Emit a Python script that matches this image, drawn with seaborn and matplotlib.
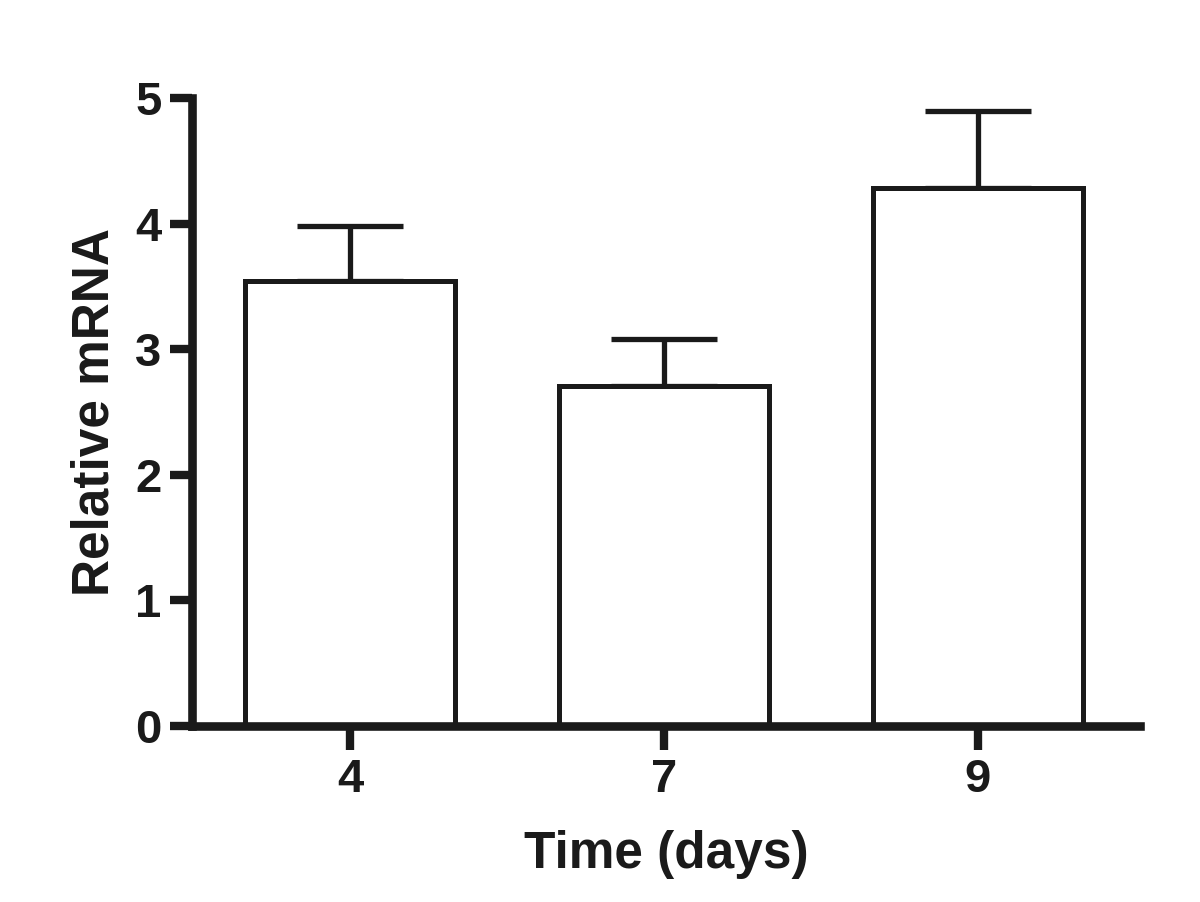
import seaborn as sns
import matplotlib.pyplot as plt
import numpy as np

# Data
days = ["4", "7", "9"]
relative_mrna = [3.54, 2.71, 4.28]
sem_upper = [0.44, 0.37, 0.62]

ink = "#1a1a1a"

sns.set_style("ticks")
plt.rcParams["font.family"] = ["Liberation Sans", "DejaVu Sans"]
plt.rcParams["font.weight"] = "bold"

fig = plt.figure(figsize=(12, 9.02), dpi=100)
ax = fig.add_axes([0.16, 0.1951, 0.79, 0.6963])

# Bars (white fill, dark outline)
sns.barplot(x=days, y=relative_mrna, color="white", edgecolor=ink,
            linewidth=3.6, width=0.67, saturation=1, ax=ax, zorder=2)

# Upper-only error bars
xpos = np.arange(len(days))
ax.errorbar(xpos, relative_mrna, yerr=[np.zeros(len(days)), sem_upper],
            fmt="none", ecolor=ink, elinewidth=3.8, capsize=38.5,
            capthick=3.8, zorder=1)

# Axes styling
ax.set_ylim(0, 5)
ax.set_xlim(-0.503, 2.516)
ax.set_yticks([0, 1, 2, 3, 4, 5])
sns.despine(ax=ax)
for side in ["left", "bottom"]:
    ax.spines[side].set_linewidth(6.2)
    ax.spines[side].set_color(ink)
ax.tick_params(axis="both", length=16, width=6, color=ink, pad=6,
               labelsize=34, labelcolor=ink)
ax.tick_params(axis="x", length=17)
for lbl in ax.get_xticklabels() + ax.get_yticklabels():
    lbl.set_fontweight("bold")

ax.set_xlabel("Time (days)", fontsize=37, fontweight="bold", color=ink)
ax.set_ylabel("Relative mRNA", fontsize=37, fontweight="bold", color=ink)
ax.xaxis.set_label_coords(0.5, -0.166)
ax.yaxis.set_label_coords(-0.076, 0.5)

fig.savefig("out.png", dpi=100, facecolor="white")
